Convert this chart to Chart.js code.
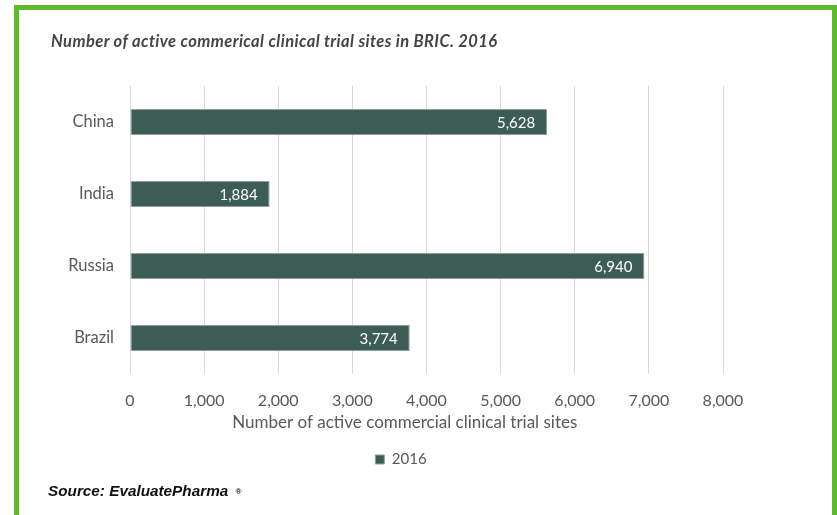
<!DOCTYPE html>
<html>
<head>
<meta charset="utf-8">
<script src="https://cdn.jsdelivr.net/npm/chart.js@4"></script>
<style>
  html, body { margin: 0; padding: 0; background: #fff; }
  #wrap { position: relative; width: 837px; height: 515px; overflow: hidden; }
  #frame {
    position: absolute; left: 14px; top: 5px; width: 813px; height: 530px;
    border: 5px solid #5dbb2a; box-sizing: content-box; pointer-events: none;
  }
  #title {
    position: absolute; left: 51px; top: 31px; font-family: Lato, sans-serif;
    font-style: italic; font-weight: bold; font-size: 16.5px; letter-spacing: 0.4px; color: #444;
  }
  #source {
    position: absolute; left: 48px; top: 482px; font-family: "Liberation Sans", Arial, sans-serif;
    font-style: italic; font-weight: bold; font-size: 15.3px; color: #111;
  }
  #source sup { font-size: 8px; vertical-align: 2px; margin-left: 3px; }
  #chart { position: absolute; left: 0; top: 0; }
</style>
</head>
<body>
<div id="wrap">
  <canvas id="chart" width="837" height="515"></canvas>
  <div id="title">Number of active commerical clinical trial sites in BRIC. 2016</div>
  <div id="source">Source: EvaluatePharma <sup>®</sup></div>
  <div id="frame"></div>
</div>
<script>
const countries = ["China", "India", "Russia", "Brazil"];
const sites2016 = [5628, 1884, 6940, 3774];
const seriesName = "2016";
const axisMax = 8000;
const axisStep = 1000;
const axisTitle = "Number of active commercial clinical trial sites";

const fontFamily = "Lato, sans-serif";
const textGray = "#595959";
const barColor = "#3d5c55";

// white value labels inside the end of each bar
const barValueLabels = {
  id: "barValueLabels",
  afterDatasetsDraw(chart) {
    const ctx = chart.ctx;
    const meta = chart.getDatasetMeta(0);
    meta.data.forEach((bar, i) => {
      ctx.save();
      ctx.fillStyle = "#ffffff";
      ctx.font = "15px " + fontFamily;
      ctx.textAlign = "right";
      ctx.textBaseline = "middle";
      ctx.fillText(chart.data.datasets[0].data[i].toLocaleString("en-US"), bar.x - 12, bar.y + 1);
      ctx.restore();
    });
  },
};

new Chart(document.getElementById("chart"), {
  type: "bar",
  data: {
    labels: countries,
    datasets: [
      {
        label: seriesName,
        data: sites2016,
        backgroundColor: barColor,
        borderColor: "#8aa09a",
        borderWidth: 1,
        borderSkipped: false,
        barPercentage: 0.36,
        categoryPercentage: 1,
      },
    ],
  },
  options: {
    indexAxis: "y",
    responsive: false,
    animation: false,
    layout: { padding: { top: 86, right: 35, bottom: 38, left: 0 } },
    plugins: {
      legend: {
        position: "bottom",
        labels: {
          boxWidth: 9,
          boxHeight: 9,
          color: textGray,
          font: { family: fontFamily, size: 15 },
          padding: 6,
        },
      },
      tooltip: { enabled: false },
    },
    scales: {
      x: {
        min: 0,
        max: axisMax,
        afterFit: (scale) => {
          scale.height = 72;
        },
        ticks: {
          stepSize: axisStep,
          color: textGray,
          font: { family: fontFamily, size: 16 },
          padding: 17,
          callback: (v) => v.toLocaleString("en-US"),
        },
        grid: { color: "#d9d9d9", drawTicks: false },
        border: { display: false },
        title: {
          display: true,
          // trailing no-break spaces nudge the centred title a little left, as in the original
          text: axisTitle + "\u00a0".repeat(10),
          color: textGray,
          font: { family: fontFamily, size: 17 },
          padding: { top: 4, bottom: 13 },
        },
      },
      y: {
        afterFit: (scale) => {
          scale.width = 130;
        },
        ticks: {
          color: textGray,
          font: { family: fontFamily, size: 16.5 },
          padding: 8,
        },
        grid: { display: false },
        border: { display: false },
      },
      // empty right-hand axis: only reserves space so the legend sits where it does in the original
      yRight: {
        type: "category",
        labels: countries,
        position: "right",
        afterFit: (scale) => {
          scale.width = 79;
        },
        ticks: { display: false },
        grid: { display: false },
        border: { display: false },
      },
    },
  },
  plugins: [barValueLabels],
});
</script>
</body>
</html>
